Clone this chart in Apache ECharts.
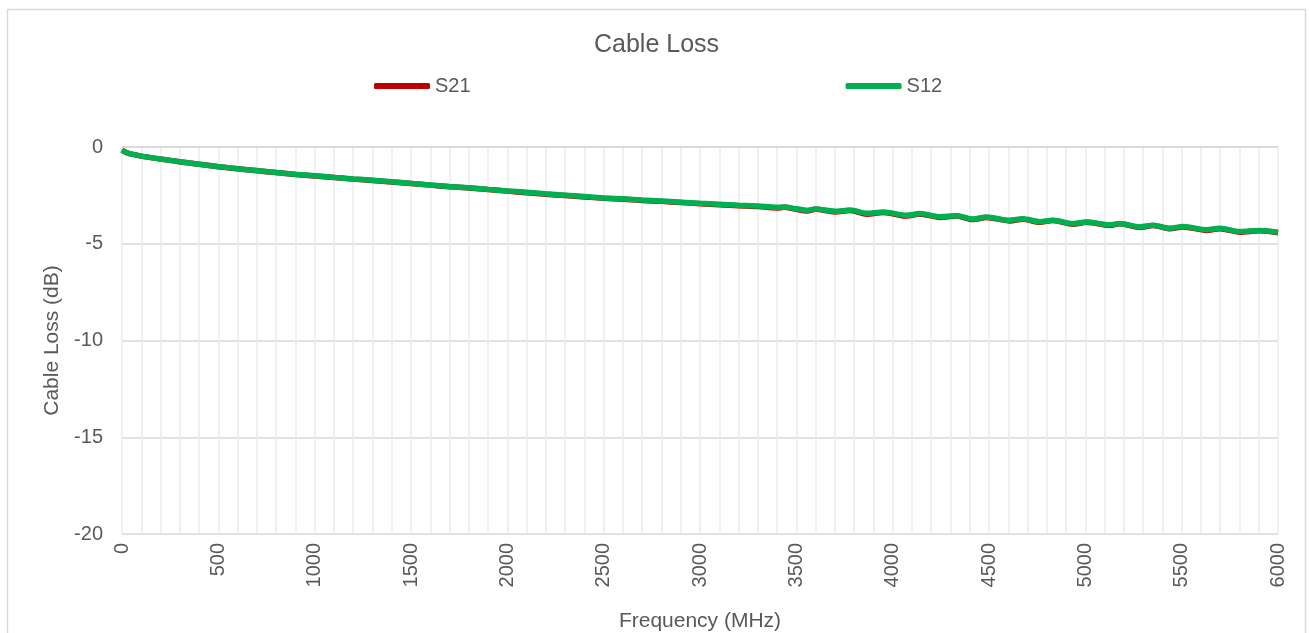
<!DOCTYPE html>
<html>
<head>
<meta charset="utf-8">
<title>Cable Loss</title>
<script src="https://cdn.jsdelivr.net/npm/echarts@6/dist/echarts.min.js"></script>
<style>
html, body { margin: 0; padding: 0; background: #fff; }
#main { width: 1309px; height: 633px; }
</style>
</head>
<body>
<div id="main"></div>
<script>
// frequency points (MHz)
var freq = [0, 25, 50, 100, 200, 300, 400, 500, 600, 700, 800, 900, 1000, 1100, 1200, 1300, 1400, 1500,
  1600, 1700, 1800, 1900, 2000, 2100, 2200, 2300, 2400, 2500, 2600, 2700, 2800, 2900, 3000, 3100, 3200,
  3300, 3400, 3435, 3500, 3555, 3600, 3700, 3780, 3866, 3952, 4073, 4141, 4245, 4331, 4417, 4487, 4608,
  4676, 4764, 4832, 4936, 5006, 5127, 5179, 5283, 5352, 5439, 5508, 5630, 5698, 5802, 5905, 6000];

var s12 = [-0.15, -0.30, -0.37, -0.47, -0.62, -0.76, -0.89, -1.01, -1.12, -1.22, -1.32, -1.41, -1.49, -1.57,
  -1.65, -1.72, -1.80, -1.88, -1.96, -2.04, -2.11, -2.19, -2.27, -2.34, -2.42, -2.49, -2.56, -2.63, -2.68,
  -2.74, -2.79, -2.85, -2.91, -2.96, -3.01, -3.05, -3.12, -3.10, -3.19, -3.27, -3.20, -3.32, -3.26, -3.43,
  -3.36, -3.53, -3.44, -3.60, -3.55, -3.72, -3.62, -3.79, -3.71, -3.86, -3.78, -3.96, -3.87, -4.02, -3.95,
  -4.13, -4.04, -4.20, -4.11, -4.28, -4.20, -4.37, -4.31, -4.41];

var s21 = [-0.15, -0.30, -0.37, -0.47, -0.62, -0.76, -0.89, -1.02, -1.12, -1.23, -1.32, -1.42, -1.50, -1.58,
  -1.66, -1.73, -1.81, -1.89, -1.97, -2.05, -2.12, -2.20, -2.28, -2.36, -2.44, -2.51, -2.58, -2.65, -2.70,
  -2.76, -2.81, -2.87, -2.93, -2.98, -3.03, -3.07, -3.15, -3.12, -3.22, -3.31, -3.22, -3.36, -3.28, -3.47,
  -3.38, -3.57, -3.46, -3.64, -3.57, -3.75, -3.64, -3.82, -3.73, -3.89, -3.80, -3.99, -3.89, -4.05, -3.97,
  -4.16, -4.06, -4.23, -4.13, -4.31, -4.22, -4.40, -4.33, -4.43];

var yTicks = [-20, -15, -10, -5, 0];

function pairs(xs, ys) {
  return xs.map(function (x, i) { return [x, ys[i]]; });
}

var textColor = '#595959';
var font = 'Liberation Sans, Arial, sans-serif';

var myChart = echarts.init(document.getElementById('main'));

var option = {
  animation: false,
  backgroundColor: '#fff',
  textStyle: { fontFamily: font },
  title: {
    text: 'Cable Loss',
    left: 594,
    top: 33,
    padding: 0,
    textStyle: { color: textColor, fontSize: 25, fontWeight: 'normal', fontFamily: font }
  },
  legend: {
    left: 374,
    top: 76,
    padding: 0,
    itemGap: 375,
    itemWidth: 56,
    itemHeight: 6,
    icon: 'roundRect',
    textStyle: { color: textColor, fontSize: 20, fontFamily: font },
    data: ['S21', 'S12']
  },
  graphic: [{
    type: 'rect',
    shape: { x: 7.5, y: 9.5, width: 1298, height: 640 },
    style: { fill: 'none', stroke: '#d9d9d9', lineWidth: 1.5 },
    silent: true
  }],
  grid: { left: 122, right: 31, top: 147, bottom: 99, containLabel: false, outerBoundsMode: 'none' },
  xAxis: {
    type: 'value',
    min: 0,
    max: 6000,
    interval: 500,
    name: 'Frequency (MHz)',
    nameLocation: 'middle',
    nameGap: 77,
    nameTextStyle: { color: textColor, fontSize: 21, fontFamily: font },
    axisLine: { show: true, lineStyle: { color: '#d9d9d9', width: 1.5 } },
    axisTick: { show: false },
    axisLabel: {
      color: textColor, fontSize: 20, rotate: 90, margin: 9, fontFamily: font,
      formatter: function (v) { return String(v); }
    },
    splitLine: { show: true, lineStyle: { color: '#ececec', width: 1.5 } },
    minorTick: { show: false, splitNumber: 5 },
    minorSplitLine: { show: true, lineStyle: { color: '#ececec', width: 1.5 } }
  },
  yAxis: {
    type: 'value',
    min: yTicks[0],
    max: yTicks[yTicks.length - 1],
    interval: 5,
    name: 'Cable Loss (dB)',
    nameLocation: 'middle',
    nameGap: 57,
    nameTextStyle: { color: textColor, fontSize: 21, fontFamily: font },
    axisLine: { show: false },
    axisTick: { show: false },
    axisLabel: { color: textColor, fontSize: 20, margin: 19, fontFamily: font },
    splitLine: { show: true, lineStyle: { color: '#d9d9d9', width: 1.5 } }
  },
  series: [{
    name: 'S21',
    type: 'line',
    data: pairs(freq, s21),
    showSymbol: false,
    symbol: 'none',
    smooth: 0.3,
    itemStyle: { color: '#c00000' },
    lineStyle: { color: '#c00000', width: 5.5 }
  }, {
    name: 'S12',
    type: 'line',
    data: pairs(freq, s12),
    showSymbol: false,
    symbol: 'none',
    smooth: 0.3,
    itemStyle: { color: '#00b050' },
    lineStyle: { color: '#00b050', width: 5.5 }
  }]
};

myChart.setOption(option);
window.onresize = function () {
  myChart.resize();
};
</script>
</body>
</html>
